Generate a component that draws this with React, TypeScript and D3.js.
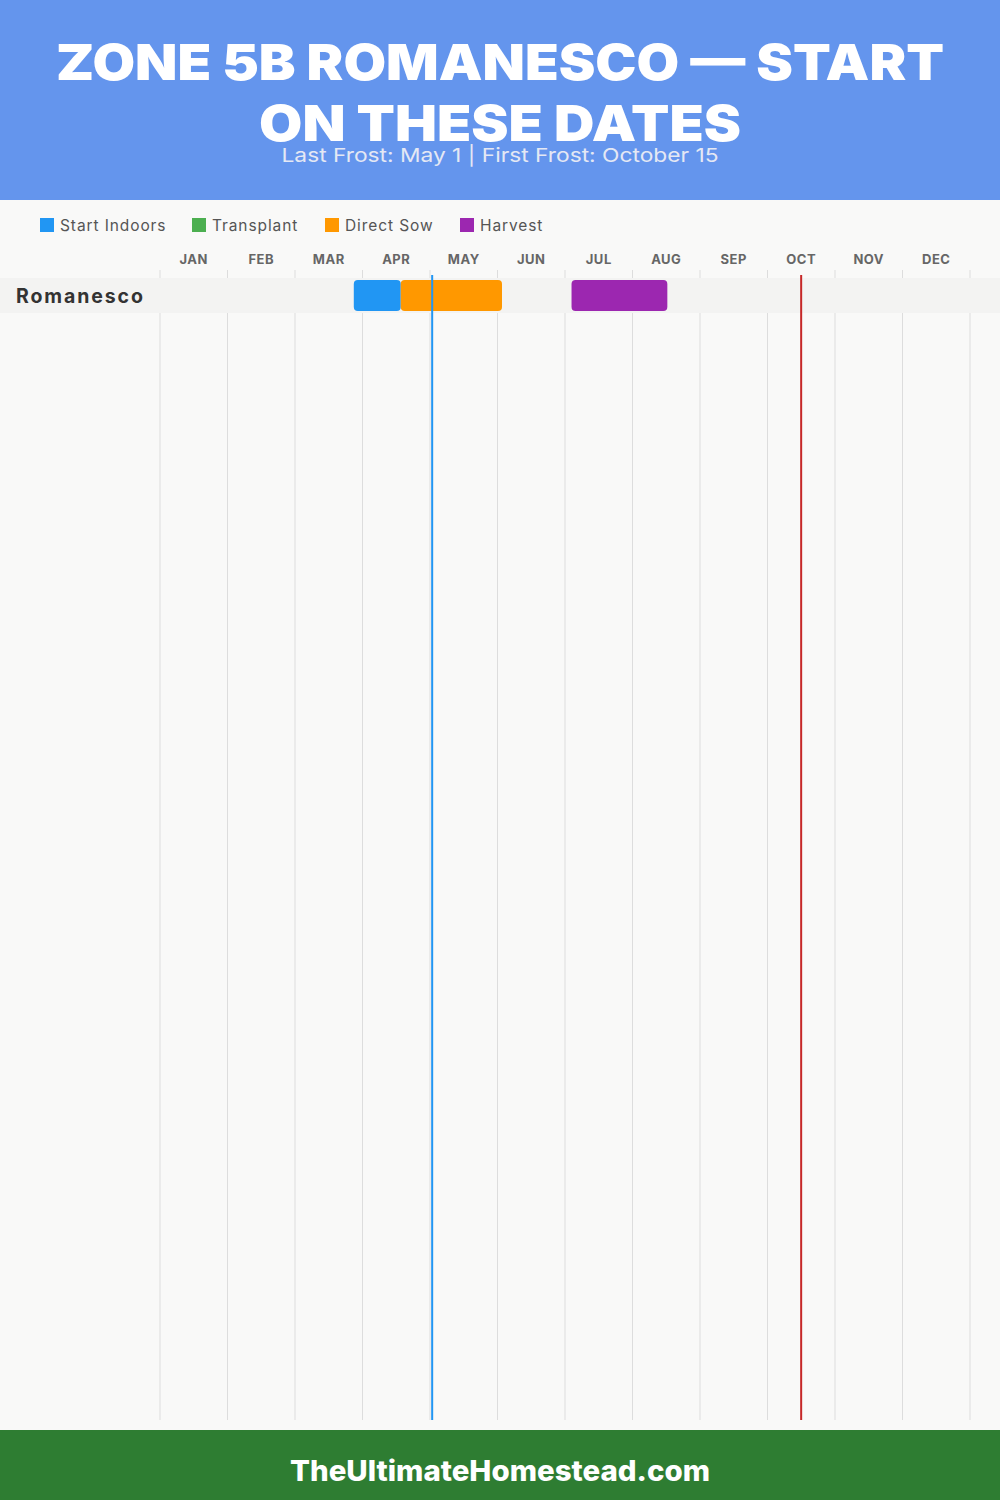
import React from "react";
import * as d3 from "d3";

const months = ["JAN", "FEB", "MAR", "APR", "MAY", "JUN", "JUL", "AUG", "SEP", "OCT", "NOV", "DEC"];
const legendLabels = ["Start Indoors", "Transplant", "Direct Sow", "Harvest"];
const legendColors = ["#2196F3", "#4CAF50", "#FF9800", "#9C27B0"];
const crops = ["Romanesco"];
// [crop, type, startMonth(1-12), startDay, endMonth, endDay]
const tasks: [string, string, number, number, number, number][] = [
  ["Romanesco", "Start Indoors", 3, 27, 4, 17],
  ["Romanesco", "Direct Sow", 4, 17, 6, 2],
  ["Romanesco", "Harvest", 7, 3, 8, 16],
];
const lastFrost: [number, number] = [5, 1];
const firstFrost: [number, number] = [10, 15];
const titleLines = ["ZONE 5B ROMANESCO — START", "ON THESE DATES"];
const subtitle = "Last Frost: May 1 | First Frost: October 15";
const footer = "TheUltimateHomestead.com";

const W = 1000;
const H = 1500;
const FONT = "Inter, 'Open Sans', 'DejaVu Sans', sans-serif";

function mIdx(m: number, d: number) {
  const dim = [31, 28, 31, 30, 31, 30, 31, 31, 30, 31, 30, 31][m - 1];
  return m - 1 + d / dim;
}

export default function App() {
  const x = d3.scaleLinear().domain([0, 12]).range([160, 970]);
  const y = d3.scaleBand<string>().domain(crops).range([278, 278 + 35 * crops.length]);
  const color = d3.scaleOrdinal<string, string>().domain(legendLabels).range(legendColors);
  const gridTop = 270;
  const gridBottom = 1420;
  const legendX = [40, 192, 325, 460];

  return (
    <svg width={W} height={H} style={{ position: "absolute", left: 0, top: 0 }} fontFamily={FONT}>
      <rect x={0} y={0} width={W} height={H} fill="#f9f9f8" />
      {/* header */}
      <rect x={0} y={0} width={W} height={200} fill="#6495ED" />
      <text x={500} y={80} textAnchor="middle" fill="#fff" fontSize={50} fontWeight={900}
        textLength={888} lengthAdjust="spacingAndGlyphs">{titleLines[0]}</text>
      <text x={500} y={141} textAnchor="middle" fill="#fff" fontSize={50} fontWeight={900}
        textLength={482} lengthAdjust="spacingAndGlyphs">{titleLines[1]}</text>
      <text x={500} y={162} textAnchor="middle" fill="#e4e8f4" fontSize={19}
        textLength={437} lengthAdjust="spacingAndGlyphs">{subtitle}</text>

      {/* legend */}
      {legendLabels.map((l, i) => (
        <g key={l}>
          <rect x={legendX[i]} y={218} width={14} height={14} fill={color(l)} />
          <text x={legendX[i] + 20} y={231} fontSize={15.5} fill="#555" letterSpacing={0.9}>{l}</text>
        </g>
      ))}

      {/* month labels */}
      {months.map((m, i) => (
        <text key={m} x={x(i + 0.5)} y={264} textAnchor="middle" fontSize={13} fontWeight={700}
          fill="#666" letterSpacing={0.5}>{m}</text>
      ))}

      {/* gridlines */}
      {d3.range(13).map((i) => (
        <line key={i} x1={x(i)} x2={x(i)} y1={gridTop} y2={gridBottom} stroke="#dddddd" strokeWidth={1} />
      ))}

      {/* rows */}
      {crops.map((c) => (
        <g key={c}>
          <rect x={0} y={y(c)} width={W} height={y.bandwidth()} fill="#f3f3f2" />
          <text x={16} y={(y(c) as number) + 25} fontSize={19.5} fontWeight={700} fill="#333"
            letterSpacing={1.9}>{c}</text>
        </g>
      ))}

      {/* bars */}
      {tasks.map(([c, t, sm, sd, em, ed], i) => {
        const x0 = x(mIdx(sm, sd));
        const x1 = x(mIdx(em, ed));
        return (
          <rect key={i} x={x0} y={(y(c) as number) + 2} width={x1 - x0} height={y.bandwidth() - 4}
            rx={4} ry={4} fill={color(t)} />
        );
      })}

      {/* frost lines */}
      <line x1={x(mIdx(...lastFrost))} x2={x(mIdx(...lastFrost))} y1={275} y2={gridBottom}
        stroke="#2196F3" strokeWidth={2} />
      <line x1={x(mIdx(...firstFrost)) + 1} x2={x(mIdx(...firstFrost)) + 1} y1={275} y2={gridBottom}
        stroke="#C62828" strokeWidth={2} />

      {/* footer */}
      <rect x={0} y={1430} width={W} height={70} fill="#2E7D32" />
      <text x={500} y={1481} textAnchor="middle" fill="#fff" fontSize={28} fontWeight={800}
        textLength={420} lengthAdjust="spacingAndGlyphs">{footer}</text>
    </svg>
  );
}
